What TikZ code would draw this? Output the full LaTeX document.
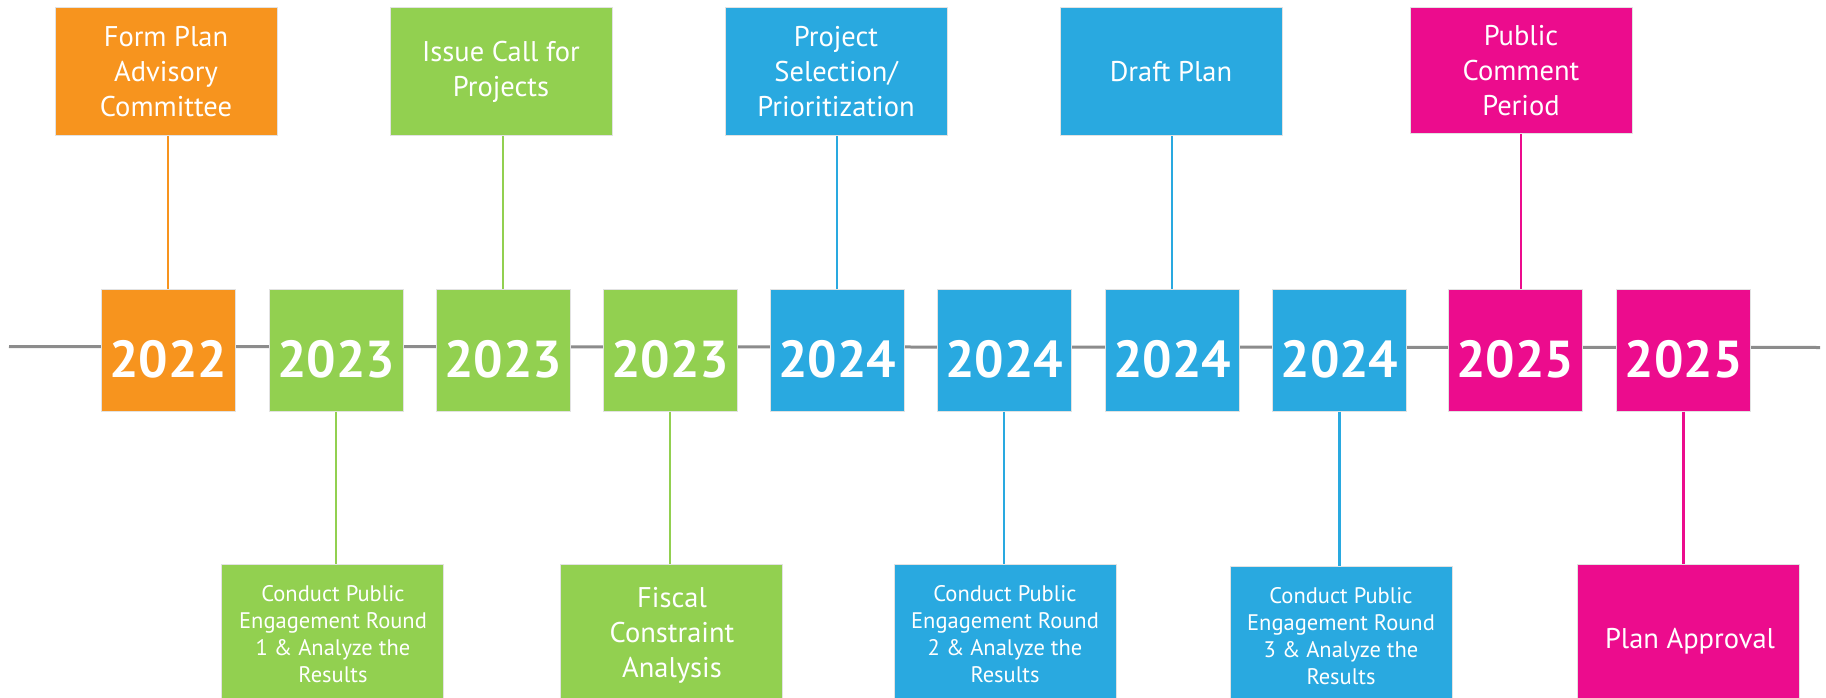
\documentclass[tikz,border=0pt]{standalone}
\usepackage{fontspec}
\setmainfont{PT Sans}
\definecolor{corange}{HTML}{F7941E}
\definecolor{cgreen}{HTML}{92D050}
\definecolor{cblue}{HTML}{29A9E0}
\definecolor{cpink}{HTML}{EC0C8D}
\definecolor{cline}{HTML}{8C8C8C}
\definecolor{cedge}{HTML}{E2E2E2}
\begin{document}
\begin{tikzpicture}[x=1pt,y=-1pt,
  yearbox/.style={draw=cedge, line width=1pt, minimum width=134pt, minimum height=122pt, inner sep=0pt,
    text=white, font=\fontsize{52}{60}\selectfont\bfseries, text height=54pt, text depth=0pt},
  topbox/.style={draw=cedge, line width=1pt, minimum width=222pt, minimum height=128pt, inner sep=0pt,
    text=white, align=center, font=\fontsize{28.5}{35}\selectfont},
  botbox/.style={draw=cedge, line width=1pt, minimum width=222pt, minimum height=180pt, inner sep=0pt, anchor=north},
  smalltxt/.style={text=white, align=center, anchor=base, inner sep=0pt, font=\fontsize{22.5}{27}\selectfont},
  bigtxt/.style={text=white, align=center, anchor=base, inner sep=0pt, font=\fontsize{28.5}{35}\selectfont},
  conn/.style={line width=2.5pt},
  timeline/.style={draw=cline, line width=3pt}]
\useasboundingbox (0,0) rectangle (1826,698);
\clip (0,0) rectangle (1826,698);
% timeline
\coordinate (tl0) at (9,346.5);
\coordinate (tl1) at (1820,347.5);
\draw[timeline] (tl0) -- (tl1);
% year boxes
\node[yearbox, fill=corange] (y1) at (168,350) {2022};
\node[yearbox, fill=cgreen] (y2) at (336,350) {2023};
\node[yearbox, fill=cgreen] (y3) at (503,350) {2023};
\node[yearbox, fill=cgreen] (y4) at (670,350) {2023};
\node[yearbox, fill=cblue] (y5) at (837,350) {2024};
\node[yearbox, fill=cblue] (y6) at (1004,350) {2024};
\node[yearbox, fill=cblue] (y7) at (1172,350) {2024};
\node[yearbox, fill=cblue] (y8) at (1339.5,350) {2024};
\node[yearbox, fill=cpink] (y9) at (1515,350) {2025};
\node[yearbox, fill=cpink] (y10) at (1683.5,350) {2025};
% top boxes
\node[topbox, fill=corange] (t1) at (166,72) {Form Plan\\Advisory\\Committee};
\node[topbox, fill=cgreen] (t2) at (501,72) {Issue Call for\\Projects};
\node[topbox, fill=cblue] (t3) at (836,72) {Project\\Selection/\\Prioritization};
\node[topbox, fill=cblue] (t4) at (1171,72) {Draft Plan};
\node[topbox, fill=cpink, minimum height=126pt] (t5) at (1521,71) {Public\\Comment\\Period};
% bottom boxes
\node[botbox, fill=cgreen] (b1) at (332.5,564) {};
\node[botbox, fill=cgreen] (b2) at (671,564) {};
\node[botbox, fill=cblue] (b3) at (1005,564) {};
\node[botbox, fill=cblue] (b4) at (1341,566) {};
\node[botbox, fill=cpink] (b5) at (1688,564) {};
\node[smalltxt] (s1) at (333,682) {Conduct Public\\Engagement Round\\1 \& Analyze the\\Results};
\node[bigtxt] (s2) at (672,677) {Fiscal\\Constraint\\Analysis};
\node[smalltxt] (s3) at (1005,682) {Conduct Public\\Engagement Round\\2 \& Analyze the\\Results};
\node[smalltxt] (s4) at (1341,684) {Conduct Public\\Engagement Round\\3 \& Analyze the\\Results};
\node[bigtxt] (s5) at (1690,648) {Plan Approval};
% connectors
\draw[conn, draw=corange] (t1.south -| y1.north) -- (y1.north);
\draw[conn, draw=cgreen] (t2.south -| y3.north) -- (y3.north);
\draw[conn, draw=cblue] (t3.south -| y5.north) -- (y5.north);
\draw[conn, draw=cblue] (t4.south -| y7.north) -- (y7.north);
\draw[conn, draw=cpink] (t5.south) -- (t5.south |- y9.north);
\draw[conn, draw=cgreen] (y2.south) -- (y2.south |- b1.north);
\draw[conn, draw=cgreen] (y4.south) -- (y4.south |- b2.north);
\draw[conn, draw=cblue] (y6.south) -- (y6.south |- b3.north);
\draw[conn, draw=cblue] (y8.south) -- (y8.south |- b4.north);
\draw[conn, draw=cpink] (y10.south) -- (y10.south |- b5.north);
\end{tikzpicture}
\end{document}
